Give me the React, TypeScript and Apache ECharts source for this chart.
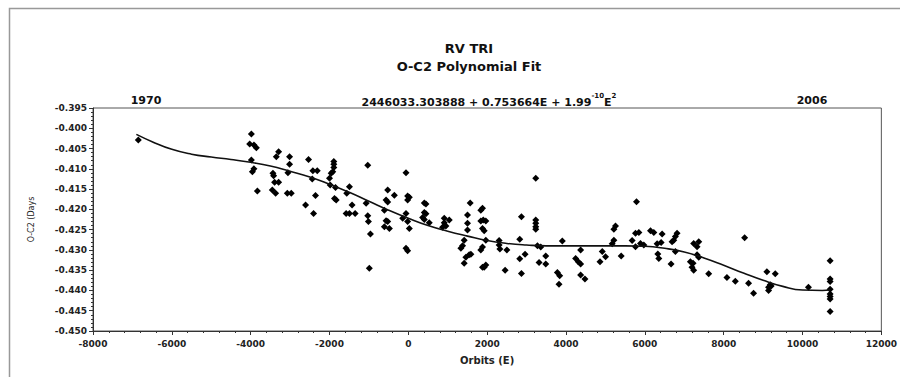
import React, { useEffect, useRef } from "react";
import * as echarts from "echarts";

const obsE: number[] = [
  -6850, -3982, -4025, -3917, -3856, -3982, -3917, -3957, -3830, -3350, -3291, -3435, -3418, -3393, -3291, -3451, -3367,
  -3013, -3013, -3055, -3071, -2970, -2532, -2422, -2311, -2438, -2355, -2608, -2405, -1890, -1890, -1890, -1917, -1957,
  -2000, -1983, -1848, -1494, -1562, -1873, -1830, -1427, -1578, -1350, -1494, -1030, -59, -524, -355, -565, -524, -18, -18,
  25, -1071, -1030, -1013, -962, -990, -565, -524, -608, -481, -608, -59, -144, -18, 25, -59, -18, 405, 447, 405, 447, 362,
  405, 531, 911, 1038, 911, 868, 953, 1569, 1501, 1501, 1501, 1417, 1375, 1333, 1544, 1417, 1460, 3233, 3233, 3233, 3233,
  3233, 1881, 1839, 1839, 1966, 1900, 1881, 1924, 1966, 1881, 1839, 1586, 1966, 1924, 1881, 2304, 2304, 2322, 2500, 2456,
  2869, 2827, 2962, 2827, 2869, 3275, 3359, 3486, 3317, 3486, 3907, 3781, 3840, 3823, 4371, 4244, 4310, 4371, 4371, 4481,
  5789, 5256, 5215, 5215, 5172, 4920, 5003, 4862, 5400, 5763, 5848, 5678, 5763, 5890, 5974, 6144, 6228, 6438, 6311, 6413,
  6329, 6354, 6665, 6817, 6775, 6734, 6691, 6775, 7240, 7367, 7325, 7325, 7367, 7155, 7223, 7197, 7240, 8532, 7620, 8083,
  8296, 8632, 8759, 9096, 9308, 9181, 9139, 9206, 9139, 10151, 10700, 10700, 10700, 10700, 10700, 10700, 10700, 10700,
];

const obsV: number[] = [
  -0.4029, -0.4014, -0.4039, -0.4041, -0.4048, -0.4078, -0.41, -0.4107, -0.4155, -0.407, -0.4058, -0.4111, -0.4117, -0.4133,
  -0.4133, -0.4152, -0.416, -0.407, -0.4089, -0.411, -0.416, -0.416, -0.4077, -0.4105, -0.4105, -0.4125, -0.4166, -0.4189,
  -0.421, -0.4082, -0.4089, -0.4097, -0.4107, -0.4111, -0.4123, -0.414, -0.4146, -0.4144, -0.416, -0.4173, -0.4177, -0.4189,
  -0.421, -0.421, -0.421, -0.4091, -0.411, -0.4152, -0.4165, -0.4177, -0.4182, -0.4167, -0.4177, -0.417, -0.4185, -0.4216,
  -0.423, -0.4261, -0.4345, -0.4228, -0.423, -0.4243, -0.4247, -0.4202, -0.421, -0.4222, -0.423, -0.4247, -0.4296, -0.4302,
  -0.4184, -0.4187, -0.4208, -0.4211, -0.422, -0.4225, -0.4233, -0.4222, -0.4226, -0.4233, -0.4244, -0.4241, -0.4184,
  -0.4214, -0.4234, -0.4251, -0.4276, -0.429, -0.4296, -0.4312, -0.4333, -0.4318, -0.4123, -0.4226, -0.4234, -0.4243,
  -0.4249, -0.4197, -0.4202, -0.4229, -0.4229, -0.4226, -0.4247, -0.4253, -0.4276, -0.4293, -0.43, -0.4311, -0.4337,
  -0.4343, -0.4343, -0.4277, -0.4288, -0.4298, -0.43, -0.435, -0.4218, -0.4274, -0.4311, -0.4322, -0.4358, -0.429, -0.4293,
  -0.4315, -0.4331, -0.4335, -0.4278, -0.4356, -0.4364, -0.4385, -0.43, -0.4321, -0.4329, -0.4335, -0.4362, -0.4372,
  -0.4181, -0.4241, -0.4249, -0.4276, -0.4285, -0.4304, -0.4317, -0.4329, -0.4315, -0.4259, -0.4257, -0.4277, -0.4292,
  -0.4284, -0.4288, -0.4253, -0.4257, -0.4261, -0.4285, -0.4282, -0.431, -0.4321, -0.4335, -0.4259, -0.4267, -0.4276,
  -0.428, -0.4304, -0.4284, -0.428, -0.4292, -0.4312, -0.4318, -0.4329, -0.4333, -0.4343, -0.435, -0.427, -0.4359, -0.4368,
  -0.4377, -0.4382, -0.4407, -0.4354, -0.4359, -0.4386, -0.4392, -0.4389, -0.44, -0.4392, -0.4327, -0.4372, -0.4378,
  -0.4397, -0.4409, -0.4415, -0.4421, -0.4452,
];

const fitE: number[] = [
  -6900, -6500, -6000, -5500, -5000, -4500, -4000, -3500, -3000, -2500, -2000, -1500, -1000, -500, 0, 500, 1000, 1500,
  2000, 2500, 3000, 3500, 4000, 4500, 5000, 5500, 6000, 6500, 7000, 7500, 8000, 8500, 9000, 9500, 10000, 10500, 10700,
];
const fitV: number[] = [
  -0.4015, -0.4033, -0.4052, -0.4064, -0.4071, -0.4077, -0.4084, -0.4093, -0.4106, -0.412, -0.4138, -0.4158, -0.418,
  -0.4202, -0.4222, -0.424, -0.4254, -0.4266, -0.4277, -0.4284, -0.4288, -0.429, -0.429, -0.429, -0.429, -0.429, -0.4291,
  -0.4296, -0.4305, -0.432, -0.4338, -0.4357, -0.4375, -0.439, -0.4399, -0.44, -0.4399,
];

const titleText = "RV TRI";
const subtitleText = "O-C2 Polynomial Fit";
const leftYear = "1970";
const rightYear = "2006";
const formulaMain = "2446033.303888 + 0.753664E + 1.99";
const formulaExp1 = "-10";
const formulaE = "E";
const formulaExp2 = "2";
const xName = "Orbits (E)";
const yName = "O-C2 (Days";

const FONT = "'DejaVu Sans', 'Liberation Sans', Arial, sans-serif";

export default function App() {
  const ref = useRef<HTMLDivElement>(null);
  useEffect(() => {
    if (!ref.current) return;
    const chart = echarts.init(ref.current, undefined, { renderer: "svg" });
    const scatterData = obsE.map((e, i) => [e, obsV[i]]);
    const fitData = fitE.map((e, i) => [e, fitV[i]]);
    const txt = (x: number, y: number, text: string, size: number, extra: any = {}) => ({
      type: "text",
      x,
      y,
      style: {
        text,
        fill: "#111",
        font: `bold ${size}px ${FONT}`,
        textAlign: "center",
        textVerticalAlign: "middle",
        align: "center",
        verticalAlign: "middle",
        ...extra,
      },
    });
    chart.setOption({
      animation: false,
      backgroundColor: "#fff",
      grid: { left: 93, right: 17, top: 108, bottom: 46, show: true, borderColor: "#555", borderWidth: 1 },
      xAxis: {
        type: "value",
        min: -8000,
        max: 12000,
        interval: 2000,
        name: xName,
        nameLocation: "middle",
        nameGap: 24,
        nameTextStyle: { fontFamily: FONT, fontWeight: "bold", fontSize: 10, color: "#222" },
        axisLine: { onZero: false, lineStyle: { color: "#333", width: 1 } },
        axisTick: { show: true, length: 4, lineStyle: { color: "#333" } },
        minorTick: { show: true, splitNumber: 5, length: 2, lineStyle: { color: "#333" } },
        splitLine: { show: false },
        axisLabel: {
          fontFamily: FONT,
          fontWeight: "bold",
          fontSize: 9,
          color: "#222",
          margin: 8,
          formatter: (v: number) => String(Math.round(v)),
        },
      },
      yAxis: {
        type: "value",
        min: -0.45,
        max: -0.395,
        interval: 0.005,
        name: yName,
        nameLocation: "middle",
        nameGap: 58,
        nameRotate: 90,
        nameTextStyle: { fontFamily: FONT, fontSize: 8, color: "#222" },
        axisLine: { onZero: false, lineStyle: { color: "#333", width: 1 } },
        axisTick: { show: true, length: 4, lineStyle: { color: "#333" } },
        minorTick: { show: true, splitNumber: 5, length: 2, lineStyle: { color: "#333" } },
        splitLine: { show: false },
        axisLabel: {
          fontFamily: FONT,
          fontWeight: "bold",
          fontSize: 9,
          color: "#222",
          margin: 6,
          formatter: (v: number) => v.toFixed(3),
        },
      },
      series: [
        {
          type: "scatter",
          data: scatterData,
          symbol: "diamond",
          symbolSize: [7, 7],
          itemStyle: { color: "#000", opacity: 1 },
          z: 2,
        },
        {
          type: "line",
          data: fitData,
          smooth: true,
          showSymbol: false,
          lineStyle: { color: "#111", width: 1.6 },
          z: 3,
        },
      ],
      graphic: [
        {
          type: "rect",
          shape: { x: 9.5, y: 8.5, width: 1000, height: 1000 },
          style: { fill: "none", stroke: "#999", lineWidth: 1.5 },
          silent: true,
        },
        txt(469, 48, titleText, 13),
        txt(469, 66, subtitleText, 13),
        txt(146, 100, leftYear, 11),
        txt(812, 100, rightYear, 11),
        {
          type: "text",
          x: 489,
          y: 100,
          style: {
            text: `{m|${formulaMain}}{s|${formulaExp1}}{m|${formulaE}}{s|${formulaExp2}}`,
            fill: "#111",
            font: `bold 11px ${FONT}`,
            textAlign: "center",
            textVerticalAlign: "middle",
            align: "center",
            verticalAlign: "middle",
            rich: {
              m: { fontFamily: FONT, fontWeight: "bold", fontSize: 11, fill: "#111", color: "#111", lineHeight: 15, verticalAlign: "bottom" },
              s: { fontFamily: FONT, fontWeight: "bold", fontSize: 7, fill: "#111", color: "#111", verticalAlign: "top", lineHeight: 15 },
            },
          },
        },
      ],
    });
    return () => chart.dispose();
  }, []);
  return <div ref={ref} style={{ position: "fixed", left: 0, top: 0, width: 900, height: 377 }} />;
}
